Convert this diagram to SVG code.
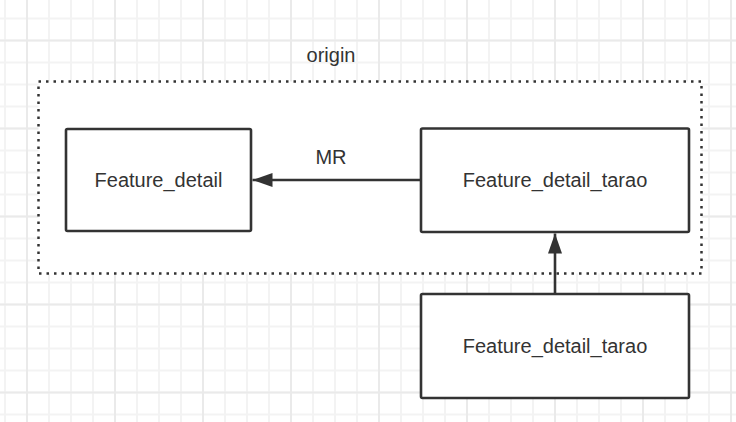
<svg xmlns="http://www.w3.org/2000/svg" width="736" height="422" viewBox="0 0 736 422">
  <style>
    .box { fill: #ffffff; stroke: #333333; stroke-width: 2.6; }
    .container { fill: #ffffff; stroke: #333333; stroke-width: 2.5; stroke-dasharray: 2.5 5; }
    .label { font-family: "Liberation Sans", Arial, sans-serif; font-size: 20px; fill: #333333; text-anchor: middle; }
    .edge { fill: none; stroke: #333333; stroke-width: 2.6; }
  </style>
  <defs>
    <pattern id="minorGrid" patternUnits="userSpaceOnUse" x="-6" y="7.5" width="22" height="22">
      <path d="M11 0 V22 M0 11 H22" stroke="#f3f3f3" stroke-width="2" fill="none"/>
    </pattern>
    <pattern id="majorGrid" patternUnits="userSpaceOnUse" x="-17" y="-3.5" width="88" height="88">
      <path d="M44 0 V88 M0 44 H88" stroke="#eaeaea" stroke-width="2" fill="none"/>
    </pattern>
    <marker id="arrow" markerUnits="userSpaceOnUse" viewBox="0 0 20 14" refX="20" refY="7" markerWidth="20" markerHeight="14" orient="auto">
      <path d="M0 0 L20 7 L0 14 Z" fill="#333333"/>
    </marker>
  </defs>

  <g id="background">
    <rect x="0" y="0" width="736" height="422" fill="#ffffff"/>
    <rect x="0" y="0" width="736" height="422" fill="url(#minorGrid)"/>
    <rect x="0" y="0" width="736" height="422" fill="url(#majorGrid)"/>
  </g>

  <g id="origin">
    <rect class="container" x="38.5" y="81.5" width="663" height="192"/>
    <text class="label" x="331" y="62">origin</text>
  </g>

  <g id="feature_detail">
    <rect class="box" x="66" y="129" width="185" height="102" rx="1.5"/>
    <text class="label" x="158.5" y="187">Feature_detail</text>
  </g>

  <g id="feature_detail_tarao_top">
    <rect class="box" x="421" y="128.5" width="268" height="103.5" rx="1.5"/>
    <text class="label" x="555" y="187">Feature_detail_tarao</text>
  </g>

  <g id="feature_detail_tarao_bottom">
    <rect class="box" x="421" y="294" width="268" height="104" rx="1.5"/>
    <text class="label" x="555" y="353">Feature_detail_tarao</text>
  </g>

  <g id="connectors">
    <path class="edge" d="M421 180 H252.5" marker-end="url(#arrow)"/>
    <text class="label" x="331" y="163.5">MR</text>
    <path class="edge" d="M555 294 V233.5" marker-end="url(#arrow)"/>
  </g>
</svg>
